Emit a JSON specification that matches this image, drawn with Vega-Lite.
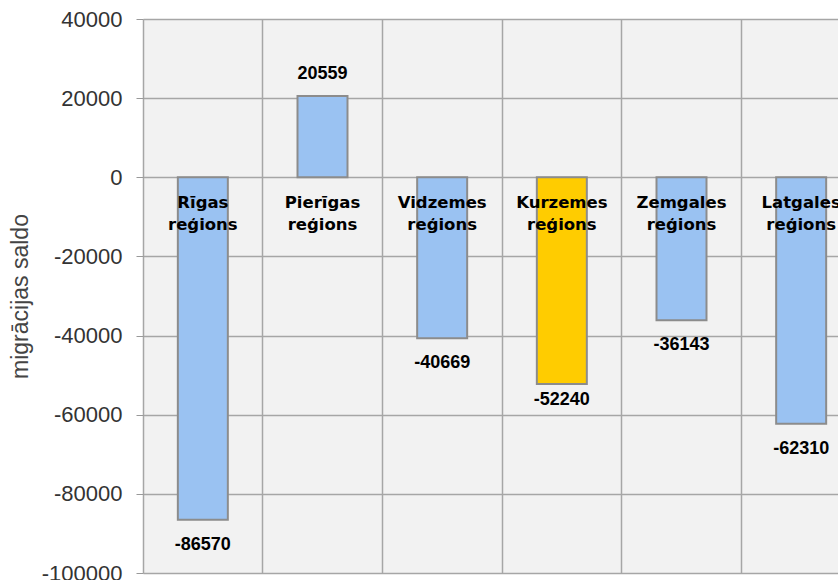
{
  "$schema": "https://vega.github.io/schema/vega-lite/v6.json",
  "width": 695,
  "height": 554,
  "autosize": {"type": "none"},
  "padding": {"left": 143, "top": 19, "right": 0, "bottom": 7},
  "background": "#ffffff",
  "view": {"fill": "#f2f2f2", "stroke": null},
  "data": {
    "values": [
      {"region": "Rīgas reģions", "value": -86570, "group": "other"},
      {"region": "Pierīgas reģions", "value": 20559, "group": "other"},
      {"region": "Vidzemes reģions", "value": -40669, "group": "other"},
      {"region": "Kurzemes reģions", "value": -52240, "group": "highlight"},
      {"region": "Zemgales reģions", "value": -36143, "group": "other"},
      {"region": "Latgales reģions", "value": -62310, "group": "other"}
    ]
  },
  "encoding": {
    "x": {
      "field": "region",
      "type": "nominal",
      "sort": null,
      "scale": {"range": [0, 718], "paddingInner": 0, "paddingOuter": 0},
      "axis": {
        "title": null,
        "labels": false,
        "ticks": false,
        "domain": false,
        "grid": true,
        "bandPosition": 0,
        "gridColor": "#a6a6a6",
        "gridWidth": 1.5
      }
    }
  },
  "layer": [
    {
      "mark": {"type": "bar", "width": 50, "stroke": "#8c8c8c", "strokeWidth": 2},
      "encoding": {
        "y": {
          "field": "value",
          "type": "quantitative",
          "scale": {"domain": [-100000, 40000], "nice": false, "zero": true},
          "axis": {
            "values": [-100000, -80000, -60000, -40000, -20000, 0, 20000, 40000],
            "labelExpr": "'' + datum.value",
            "grid": true,
            "gridColor": "#a6a6a6",
            "gridWidth": 1.5,
            "domain": false,
            "tickColor": "#999999",
            "tickSize": 7,
            "labelFont": "Liberation Sans",
            "labelFontSize": 22,
            "labelColor": "#333333",
            "labelPadding": 14,
            "title": "migrācijas  saldo",
            "titleFont": "Liberation Sans",
            "titleFontSize": 23,
            "titleFontWeight": "normal",
            "titleColor": "#444444",
            "titleX": -123,
            "titleY": 277,
            "titleBaseline": "middle",
            "titleAnchor": "middle"
          }
        },
        "fill": {
          "field": "group",
          "type": "nominal",
          "scale": {"domain": ["other", "highlight"], "range": ["#9ac2f2", "#ffcc00"]},
          "legend": null
        }
      }
    },
    {
      "mark": {
        "type": "text",
        "lineBreak": " ",
        "font": "DejaVu Sans",
        "fontWeight": "bold",
        "fontSize": 16.5,
        "lineHeight": 22,
        "baseline": "top",
        "align": "center",
        "dy": 18,
        "color": "#000000"
      },
      "encoding": {
        "y": {"datum": 0, "type": "quantitative"},
        "text": {"field": "region"}
      }
    },
    {
      "transform": [{"filter": "datum.value < 0 && datum.group == 'other'"}],
      "mark": {
        "type": "text",
        "font": "Liberation Sans",
        "fontWeight": "bold",
        "fontSize": 18,
        "baseline": "middle",
        "align": "center",
        "dy": 25,
        "color": "#000000"
      },
      "encoding": {
        "y": {"field": "value", "type": "quantitative"},
        "text": {"field": "value", "type": "nominal"}
      }
    },
    {
      "transform": [{"filter": "datum.group == 'highlight'"}],
      "mark": {
        "type": "text",
        "font": "Liberation Sans",
        "fontWeight": "bold",
        "fontSize": 18,
        "baseline": "middle",
        "align": "center",
        "dy": 16,
        "color": "#000000"
      },
      "encoding": {
        "y": {"field": "value", "type": "quantitative"},
        "text": {"field": "value", "type": "nominal"}
      }
    },
    {
      "transform": [{"filter": "datum.value > 0"}],
      "mark": {
        "type": "text",
        "font": "Liberation Sans",
        "fontWeight": "bold",
        "fontSize": 18,
        "baseline": "middle",
        "align": "center",
        "dy": -22,
        "color": "#000000"
      },
      "encoding": {
        "y": {"field": "value", "type": "quantitative"},
        "text": {"field": "value", "type": "nominal"}
      }
    }
  ]
}
